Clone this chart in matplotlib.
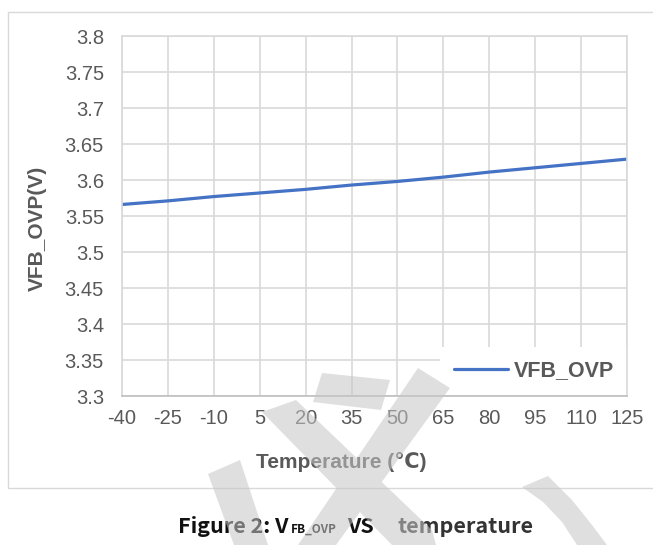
import matplotlib
matplotlib.use("Agg")
import matplotlib.pyplot as plt
from matplotlib.patches import Rectangle, PathPatch
from matplotlib.path import Path

# Feedback threshold voltage versus temperature
temperatures = [-40, -25, -10, 5, 20, 35, 50, 65, 80, 95, 110, 125]
vfb_ovp = [3.566, 3.571, 3.577, 3.582, 3.587, 3.593, 3.598, 3.604, 3.611, 3.617, 3.623, 3.629]
y_ticks = [3.3, 3.35, 3.4, 3.45, 3.5, 3.55, 3.6, 3.65, 3.7, 3.75, 3.8]
y_tick_labels = ["3.3", "3.35", "3.4", "3.45", "3.5", "3.55", "3.6", "3.65", "3.7", "3.75", "3.8"]
x_tick_labels = [str(t) for t in temperatures]
series_name = "VFB_OVP"

W, H = 653, 545
DPI = 100
TXT = "#595959"
GRID = "#d9d9d9"
FONT = ["Liberation Sans", "DejaVu Sans"]

plt.rcParams["font.family"] = FONT

fig = plt.figure(figsize=(W / DPI, H / DPI), dpi=DPI)
fig.patch.set_facecolor("white")


def fx(px):
    return px / W


def fy(py):
    return 1 - py / H


# chart frame
fig.patches.append(Rectangle((fx(8), fy(488)), fx(700) - fx(8), fy(12) - fy(488),
                             transform=fig.transFigure, facecolor="none",
                             edgecolor=GRID, linewidth=1.0, zorder=-1))

ax = fig.add_axes([fx(122), fy(396), fx(627) - fx(122), fy(36) - fy(396)])
ax.set_facecolor("white")

xs = list(range(len(temperatures)))
ax.plot(xs, vfb_ovp, color="#4472C4", linewidth=2.3, solid_capstyle="round",
        label=series_name, zorder=3)

ax.set_xlim(0, len(temperatures) - 1)
ax.set_ylim(3.3, 3.8)
ax.set_xticks(xs)
ax.set_xticklabels(x_tick_labels)
ax.set_yticks(y_ticks)
ax.set_yticklabels(y_tick_labels)
ax.tick_params(axis="both", length=0, labelsize=14.5, labelcolor=TXT)
ax.tick_params(axis="y", pad=13)
ax.tick_params(axis="x", pad=9)
ax.grid(True, color=GRID, linewidth=1.2, zorder=0)
ax.set_axisbelow(True)
for side in ("top", "right", "left"):
    ax.spines[side].set_color(GRID)
    ax.spines[side].set_linewidth(1.2)
ax.spines["bottom"].set_color("#bfbfbf")
ax.spines["bottom"].set_linewidth(1.2)
for sp in ax.spines.values():
    sp.set_zorder(6)

leg = ax.legend(loc="center", bbox_to_anchor=(fx(534), fy(371)),
                bbox_transform=fig.transFigure, frameon=True, fancybox=False,
                framealpha=1.0, facecolor="white", edgecolor="none",
                handlelength=2.5, handletextpad=0.3, borderpad=0.65,
                prop={"family": FONT, "weight": "bold", "size": 15.5})
for t in leg.get_texts():
    t.set_color(TXT)
leg.set_zorder(5)

fig.text(fx(341), fy(462), "Temperature (℃)", ha="center", va="center",
         fontsize=15, fontweight="bold", color=TXT, family=FONT)
fig.text(fx(37), fy(228), "VFB_OVP(V)", ha="center", va="center", rotation=90,
         fontsize=15, fontweight="bold", color=TXT, family=FONT)

# caption with subscript
CAP = ["Noto Sans CJK SC", "DejaVu Sans"]
base_y = fy(533)
fig.text(fx(178), base_y, "Figure 2: V", ha="left", va="baseline",
         fontsize=15.5, fontweight="bold", color="#111111", family=CAP)
fig.text(fx(291), base_y, "FB_OVP", ha="left", va="baseline",
         fontsize=8.5, fontweight="bold", color="#111111", family=CAP)
fig.text(fx(347), base_y, "VS", ha="left", va="baseline",
         fontsize=15.5, fontweight="bold", color="#111111", family=CAP)
fig.text(fx(397), base_y, "temperature", ha="left", va="baseline",
         fontsize=15.5, fontweight="bold", color="#333333", family=CAP)

# light watermark strokes laid over the chart, filled as one shape
strokes = [
    [(322, 373), (390, 380), (381, 410), (313, 402)],
    [(262, 412), (296, 400), (432, 530), (436, 545), (392, 545)],
    [(208, 474), (240, 460), (268, 545), (234, 545)],
    [(418, 368), (450, 388), (336, 545), (298, 545)],
    [(522, 487), (548, 476), (572, 500), (592, 525), (607, 545), (577, 545), (562, 522), (543, 502)],
]


def ccw(pts):
    area = sum(x0 * y1 - x1 * y0 for (x0, y0), (x1, y1) in zip(pts, pts[1:] + pts[:1]))
    return pts if area > 0 else pts[::-1]


paths = []
for pts in strokes:
    fpts = ccw([(fx(x), fy(y)) for x, y in pts])
    paths.append(Path(fpts + [fpts[0]], [Path.MOVETO] + [Path.LINETO] * (len(fpts) - 1) + [Path.CLOSEPOLY]))
mark = Path.make_compound_path(*paths)
fig.patches.append(PathPatch(mark, transform=fig.transFigure, facecolor="#c6c6c6",
                             edgecolor="none", alpha=0.55, zorder=10))

fig.savefig("out.png", dpi=DPI, facecolor="white")
